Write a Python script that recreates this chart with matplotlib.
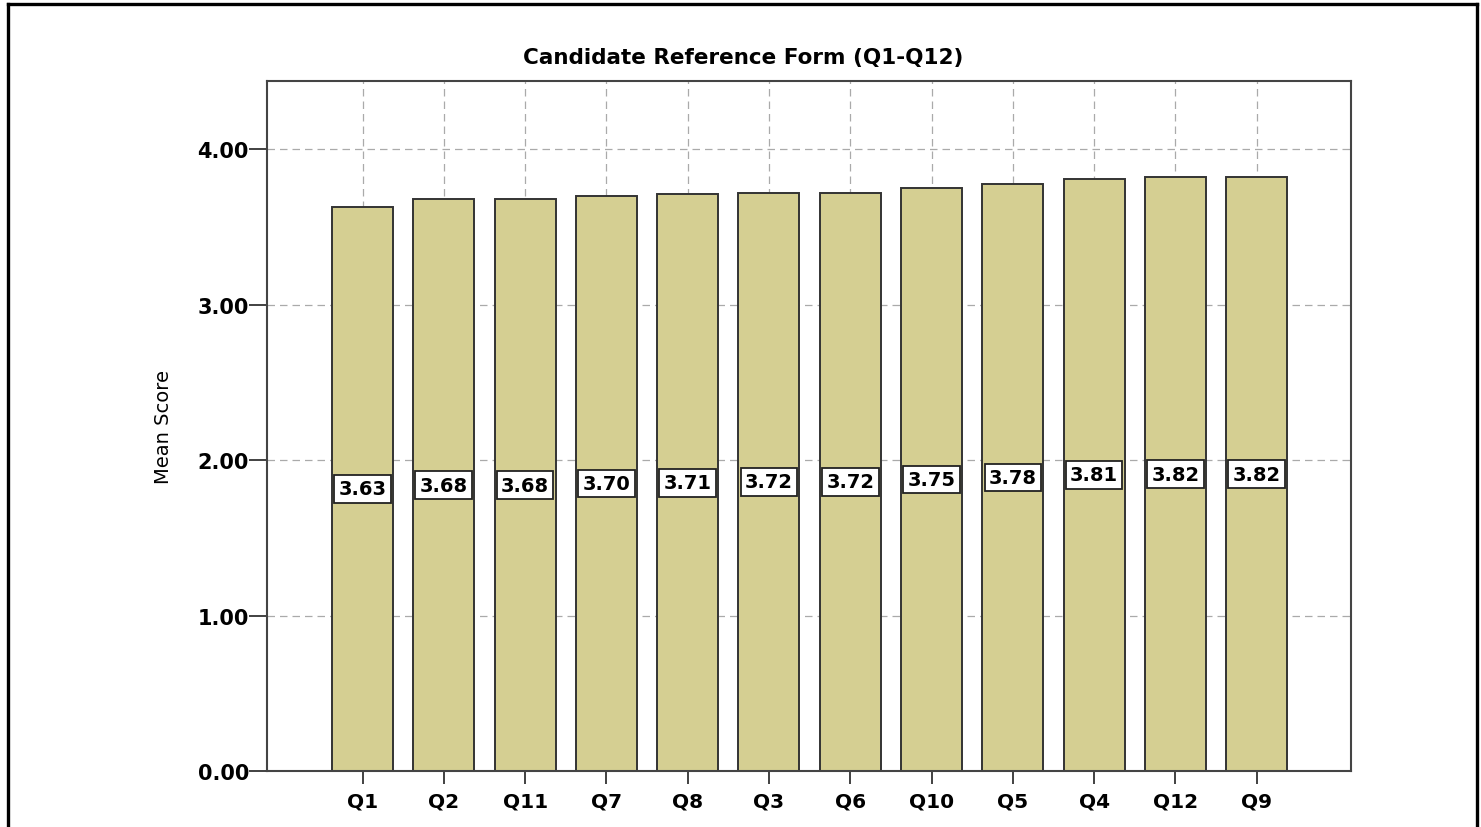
import numpy as np
import matplotlib
matplotlib.use("Agg")
import matplotlib.pyplot as plt
from matplotlib.lines import Line2D

questions = ["Q1", "Q2", "Q11", "Q7", "Q8", "Q3", "Q6", "Q10", "Q5", "Q4", "Q12", "Q9"]
means = [3.63, 3.68, 3.68, 3.70, 3.71, 3.72, 3.72, 3.75, 3.78, 3.81, 3.82, 3.82]
yticks = [0, 1, 2, 3, 4]

plt.rcParams["font.family"] = ["DejaVu Sans"]

fig = plt.figure(figsize=(14.81, 8.28), dpi=100)
ax = fig.add_axes([0.1803, 0.0676, 0.7319, 0.8334])

x = np.arange(len(questions))
ax.bar(x, means, width=0.75, color="#d5cf92", edgecolor="#333333", lw=1.4, zorder=2)

for xi, m in zip(x, means):
    ax.text(xi, m / 2, f"{m:.2f}", ha="center", va="center", fontsize=14,
            fontweight="bold", zorder=3,
            bbox=dict(boxstyle="square,pad=0.22", fc="white", ec="#222222", lw=1.3))

ax.set_xlim(-1.175, 12.16)
ax.set_ylim(0, 4.44)
ax.set_xticks(x)
ax.set_xticklabels(questions, fontsize=14.5, fontweight="bold")
ax.set_yticks(yticks)
ax.set_yticklabels([f"{v:.2f}" for v in yticks], fontsize=15, fontweight="bold")
ax.tick_params(axis="y", length=13, width=1.3, pad=0, color="#333333")
ax.tick_params(axis="x", length=9, width=1.3, pad=6, color="#333333")

ax.set_axisbelow(True)
ax.grid(True, ls=(0, (6, 4)), color="#aaaaaa", lw=0.9)
for s in ax.spines.values():
    s.set_color("#444444")
    s.set_linewidth(1.5)

ax.set_ylabel("Mean Score", fontsize=14)
ax.yaxis.set_label_coords(-0.087, 0.5)

fig.text(0.5017, 0.930, "Candidate Reference Form (Q1-Q12)", ha="center", va="center",
         fontsize=15.5, fontweight="bold")

# outer frame (left, top, right)
for xs, ys in [([0.0054, 0.0054], [0, 0.994]), ([0.0054, 0.9973], [0.994, 0.994]),
               ([0.9973, 0.9973], [0, 0.994])]:
    fig.add_artist(Line2D(xs, ys, color="black", lw=2.4, transform=fig.transFigure))

fig.savefig("out.png", dpi=100)
